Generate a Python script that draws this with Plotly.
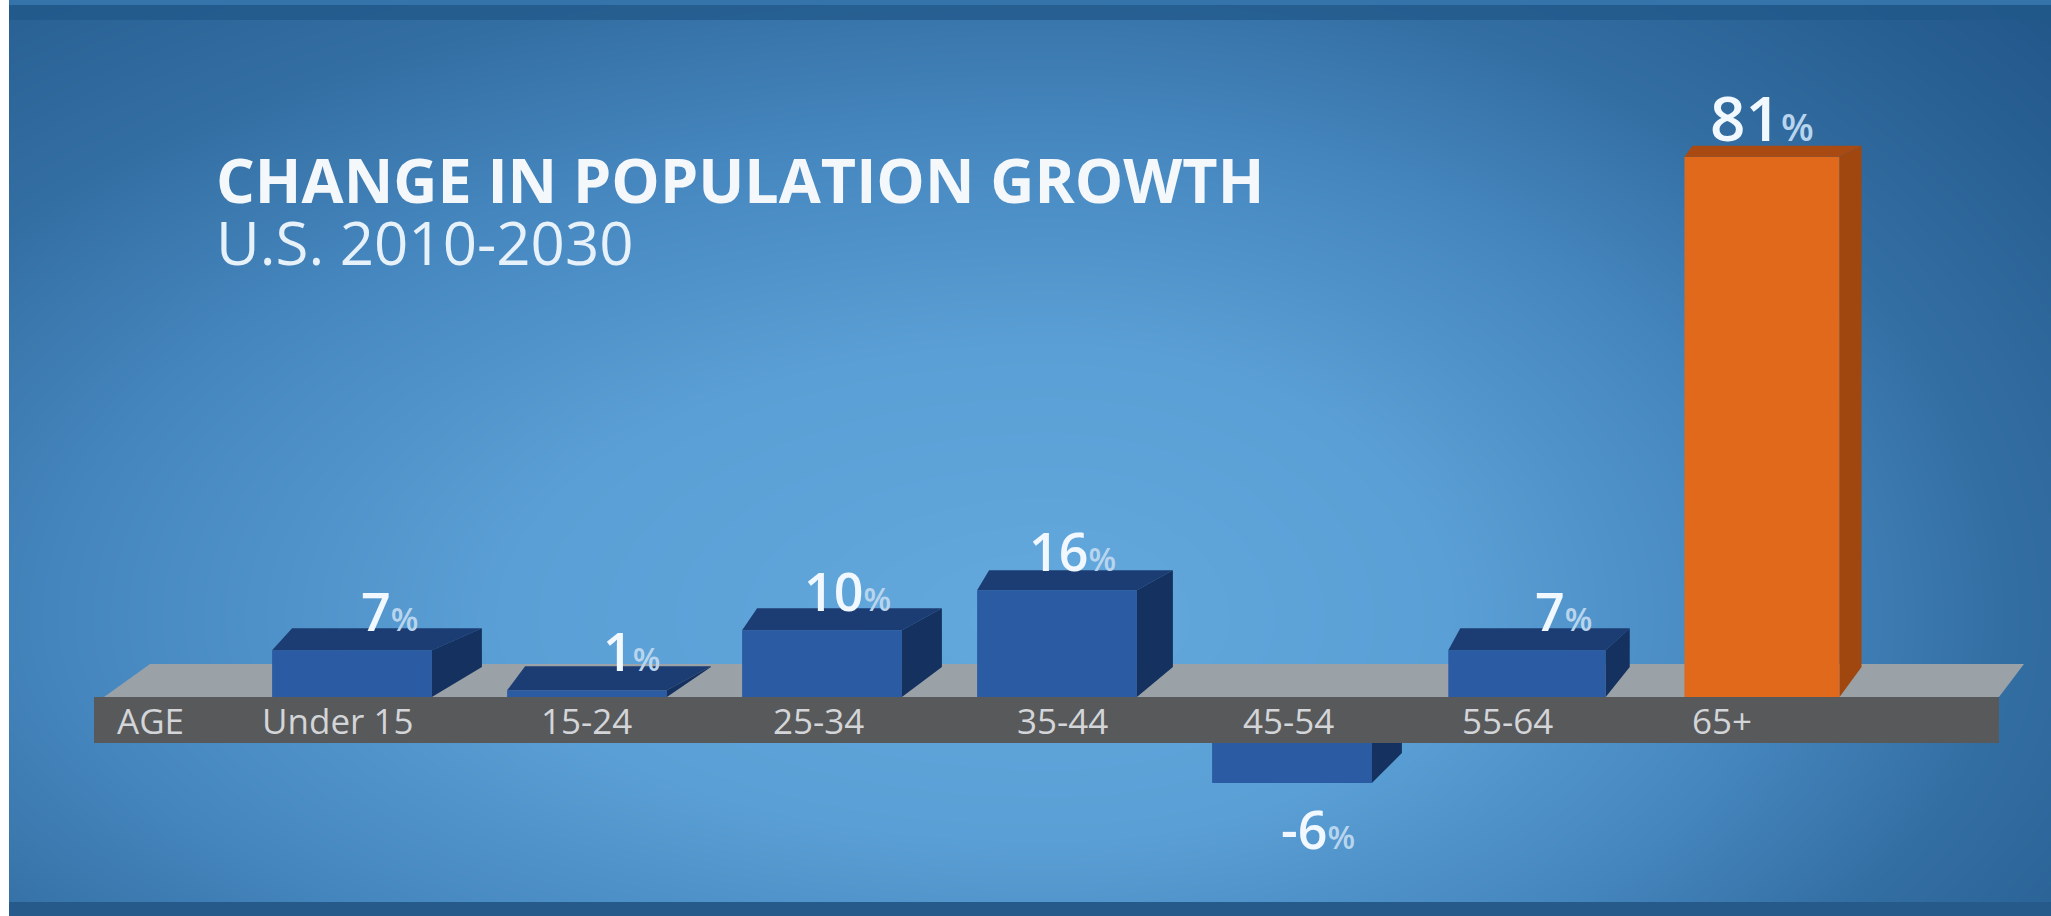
import numpy as np
import plotly.graph_objects as go

# ---------------- data ----------------
categories = ["Under 15", "15-24", "25-34", "35-44", "45-54", "55-64", "65+"]
growth_pct = [7, 1, 10, 16, -6, 7, 81]
axis_label = "AGE"
title_text = "CHANGE IN POPULATION GROWTH"
subtitle_text = "U.S. 2010-2030"
highlight_category = "65+"

# ---------------- layout constants (style) ----------------
W, H = 2051, 916
X0_PX, PX_PER_CAT = 352, 235          # pixel centre of first bar, spacing
PX_PER_PCT = 6.67                      # vertical pixels per percentage point
POS_BASE_PX, NEG_BASE_PX = 697, 743    # band top / band bottom
BAR_W = [0.68, 0.68, 0.68, 0.68, 0.68, 0.67, 0.66]

# 3-D look of each bar (pixels)
DX_PX = [50, 44, 40, 36, 30, 24, 22]    # right depth offset
DXL_PX = [20, 18, 15, 12, 10, 12, 8]    # left depth offset (top face)
DYT_PX = [22, 24, 22, 20, 0, 22, 11]    # depth of top face
DYB_PX = 30                             # depth at floor level
VAL_NUDGE_PX = [37, 44, 25, 15, 26, 36, 0]
CAT_NUDGE_PX = [-15, -1, -4, 5, -4, -20, -40]

BLUE_FRONT, BLUE_TOP, BLUE_SIDE = "#2b5ca3", "#1c3d73", "#14315f"
ORG_FRONT, ORG_TOP, ORG_SIDE = "#e0691b", "#a84a12", "#a0470f"


def px_x(px):
    return (np.asarray(px, dtype=float) - X0_PX) / PX_PER_CAT


fig = go.Figure()

# ---------------- background gradient (own subplot x/y in pixel units) ----------------
xs_px = np.linspace(-30, W + 30, 140)
ys_px = np.linspace(-30, H + 30, 70)
XX, YY = np.meshgrid(xs_px, ys_px)
cx, cy = 1050, 620
rx = np.where(XX < cx, 1300.0, 950.0)
ry = np.where(YY < cy, 650.0, 520.0)
R = np.sqrt(((XX - cx) / rx) ** 2 + ((YY - cy) / ry) ** 2)
fig.add_trace(go.Heatmap(
    x=px_x(xs_px), y=ys_px, z=R, zmin=0, zmax=1.4, zsmooth="best",
    colorscale=[[0, "#64a9dd"], [0.3, "#5a9fd5"], [0.55, "#4485bd"],
                [0.72, "#336ea2"], [1, "#22578a"]],
    showscale=False, hoverinfo="skip", xaxis="x", yaxis="y"))

# floor (perspective plane) and axis band
fig.add_trace(go.Scatter(
    x=px_x([104, 150, 2024, 1999, 104]), y=[697, 664, 664, 697, 697],
    fill="toself", fillcolor="#9aa1a7", mode="lines", line=dict(width=0),
    hoverinfo="skip", xaxis="x", yaxis="y"))
fig.add_trace(go.Scatter(
    x=px_x([94, 1999, 1999, 94, 94]), y=[697, 697, 743, 743, 697],
    fill="toself", fillcolor="#58595b", mode="lines", line=dict(width=0),
    hoverinfo="skip", xaxis="x", yaxis="y"))

# ---------------- bars ----------------
idx = list(range(len(categories)))
pos_i = [i for i, v in zip(idx, growth_pct) if v >= 0]
neg_i = [i for i, v in zip(idx, growth_pct) if v < 0]
front_colors = {i: (ORG_FRONT if categories[i] == highlight_category else BLUE_FRONT) for i in idx}

fig.add_trace(go.Bar(
    x=pos_i, y=[growth_pct[i] for i in pos_i], width=[BAR_W[i] for i in pos_i],
    marker=dict(color=[front_colors[i] for i in pos_i], line=dict(width=0)),
    xaxis="x", yaxis="y2", hoverinfo="skip"))
fig.add_trace(go.Bar(
    x=neg_i, y=[growth_pct[i] for i in neg_i], width=[BAR_W[i] for i in neg_i],
    marker=dict(color=[front_colors[i] for i in neg_i], line=dict(width=0)),
    xaxis="x", yaxis="y3", hoverinfo="skip"))

# top and side faces derived from values
for i, v in zip(idx, growth_pct):
    hl = categories[i] == highlight_category
    top_c = ORG_TOP if hl else BLUE_TOP
    side_c = ORG_SIDE if hl else BLUE_SIDE
    x0, x1 = i - BAR_W[i] / 2, i + BAR_W[i] / 2
    dx = DX_PX[i] / PX_PER_CAT
    dxl = DXL_PX[i] / PX_PER_CAT
    if v >= 0:
        dyt = DYT_PX[i] / PX_PER_PCT
        dyb = min(DYB_PX / PX_PER_PCT, v + dyt)
        fig.add_trace(go.Scatter(
            x=[x0, x1, x1 + dx, x0 + dxl, x0], y=[v, v, v + dyt, v + dyt, v],
            fill="toself", fillcolor=top_c, mode="lines", line=dict(width=0),
            hoverinfo="skip", xaxis="x", yaxis="y2"))
        fig.add_trace(go.Scatter(
            x=[x1, x1, x1 + dx, x1 + dx, x1], y=[0, v, v + dyt, dyb, 0],
            fill="toself", fillcolor=side_c, mode="lines", line=dict(width=0),
            hoverinfo="skip", xaxis="x", yaxis="y2"))
    else:
        dyb = DYB_PX / PX_PER_PCT
        fig.add_trace(go.Scatter(
            x=[x1, x1 + dx, x1 + dx, x1, x1], y=[0, 0, min(v + dyb, 0), v, 0],
            fill="toself", fillcolor=side_c, mode="lines", line=dict(width=0),
            hoverinfo="skip", xaxis="x", yaxis="y3"))

# ---------------- annotations ----------------
ann = []
ann.append(dict(
    text=(f"<b><span style='font-size:61px;color:#f4f8fb'>{title_text}</span></b><br>"
          f"<span style='font-size:60px;color:#e6f1fa'>{subtitle_text}</span>"),
    xref="paper", yref="paper", x=214 / W, y=1 - 210 / H,
    xanchor="left", yanchor="middle", align="left", showarrow=False,
    font=dict(family="Open Sans", size=48, color="#f4f8fb")))

band_mid = 1 - 720 / H
ann.append(dict(text=axis_label, xref="paper", yref="paper", x=150 / W, y=band_mid,
                xanchor="center", yanchor="middle", showarrow=False,
                font=dict(family="Open Sans", size=35, color="#d3d5d8")))
for i, c in zip(idx, categories):
    ann.append(dict(text=c, xref="x", yref="paper", x=i, y=band_mid, xshift=CAT_NUDGE_PX[i],
                    xanchor="center", yanchor="middle", showarrow=False,
                    font=dict(family="Open Sans", size=35, color="#d3d5d8")))

for i, v in zip(idx, growth_pct):
    big = abs(v) >= 50
    fs = 62 if big else 52
    pct_fs = 38 if big else 32
    txt = f"{v}<span style='font-size:{pct_fs}px;color:#b9d5ee'>%</span>"
    ann.append(dict(text=txt, xref="x", x=i, xshift=VAL_NUDGE_PX[i],
                    yref="y2" if v >= 0 else "y3", y=v,
                    yshift=40 if v >= 0 else -45,
                    xanchor="center", yanchor="middle", showarrow=False,
                    font=dict(family="Open Sans", size=fs, color="#f2f8ff", weight=600)))

# frame edges
shapes = [
    dict(type="rect", xref="paper", yref="paper", x0=0, x1=1, y0=1 - 20 / H, y1=1,
         fillcolor="#22588a", line=dict(width=0), layer="above", opacity=0.75),
    dict(type="rect", xref="paper", yref="paper", x0=0, x1=1, y0=1 - 5 / H, y1=1,
         fillcolor="#3474aa", line=dict(width=0), layer="above"),
    dict(type="rect", xref="paper", yref="paper", x0=0, x1=1, y0=0, y1=14 / H,
         fillcolor="#255a8b", line=dict(width=0), layer="above"),
    dict(type="rect", xref="paper", yref="paper", x0=0, x1=9 / W, y0=0, y1=1,
         fillcolor="#ffffff", line=dict(width=0), layer="above"),
]

fig.update_layout(
    width=W, height=H, autosize=False,
    margin=dict(l=0, r=0, t=0, b=0, pad=0),
    paper_bgcolor="#2e6a9f", plot_bgcolor="rgba(0,0,0,0)",
    showlegend=False, barmode="overlay",
    xaxis=dict(range=[float(px_x(0)), float(px_x(W))], domain=[0, 1], visible=False, fixedrange=True),
    yaxis=dict(range=[H, 0], domain=[0, 1], visible=False, fixedrange=True),
    yaxis2=dict(range=[0, POS_BASE_PX / PX_PER_PCT], domain=[(H - POS_BASE_PX) / H, 1],
                anchor="x", visible=False, fixedrange=True),
    yaxis3=dict(range=[-(H - NEG_BASE_PX) / PX_PER_PCT, 0], domain=[0, (H - NEG_BASE_PX) / H],
                anchor="x", visible=False, fixedrange=True),
    annotations=ann, shapes=shapes,
)

fig.write_html("out.html", config={"displayModeBar": False})
